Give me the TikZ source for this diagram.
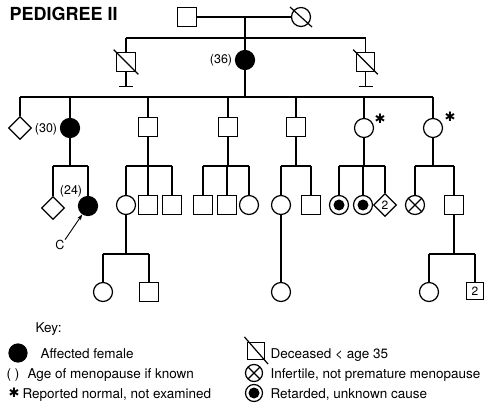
\documentclass[tikz,border=0pt]{standalone}
\usepackage{fontspec}
\setmainfont{TeX Gyre Heros}
\newfontfamily\symfont{DejaVu Sans}
\usetikzlibrary{shapes.geometric,arrows.meta}

\begin{document}
\begin{tikzpicture}[x=1pt,y=-1pt,line width=1.2pt,
    every node/.style={inner sep=0pt},
    sq/.style={draw,rectangle,minimum size=18.5pt,fill=white},
    ci/.style={draw,circle,minimum size=19pt,fill=white},
    dm/.style={draw,diamond,minimum size=23pt,fill=white},
    aff/.style={ci,fill=black},
    ret/.style={ci,path picture={\fill[black] (path picture bounding box.center) circle (5.5pt);}},
    inf/.style={ci,path picture={\draw (path picture bounding box.north west) -- (path picture bounding box.south east)
        (path picture bounding box.north east) -- (path picture bounding box.south west);}},
    lab/.style={font=\fontsize{12.5}{14}\selectfont},
    num/.style={font=\fontsize{12}{14}\selectfont},
    key/.style={font=\fontsize{13.5}{16}\selectfont,anchor=base west},
    star/.style={font=\symfont\fontsize{13}{14}\selectfont}]
  \useasboundingbox (0,0) rectangle (485,414);
  \node [font=\bfseries\fontsize{18}{20}\selectfont,anchor=west] (title) at (9,13.5) {PEDIGREE II};

  % generation I
  \node [sq] (I1) at (187,17) {};
  \node [ci] (I2) at (301,17) {};
  \draw ([shift={(-11,-10)}]I2.center) -- ([shift={(11,10)}]I2.center);
  \coordinate (m1) at (245,17);
  \coordinate (s2) at (245,38);
  \draw (I1) -- (I2);
  \draw (m1) -- (s2);

  % generation II
  \node [sq] (II1) at (126,62) {};
  \node [aff] (II2) at (245,60) {};
  \node [sq] (II3) at (365.5,62) {};
  \node [lab] (a36) at (221,60) {(36)};
  \foreach \n in {II1,II3} {
    \draw ([shift={(-2.5,-2.5)}]\n.north west) -- ([shift={(2.5,2.5)}]\n.south east);
    \draw (\n.south) -- ++(0,15) ++(-7,0) -- ++(14,0);
    \draw (\n.north) -- (\n.north |- s2);
  }
  \draw (II1.north |- s2) -- (II3.north |- s2);
  \draw (s2) -- (II2);

  % generation III
  \coordinate (s3) at (245,97);
  \draw (II2) -- (s3);
  \node [dm] (III1) at (20,128) {};
  \node [aff] (III2) at (70,128) {};
  \node [sq] (III3) at (148,127) {};
  \node [sq] (III4) at (228,127) {};
  \node [sq] (III5) at (296,127) {};
  \node [ci] (III6) at (364,128) {};
  \node [ci] (III7) at (433,128) {};
  \node [lab] (a30) at (46,129) {(30)};
  \node [star] (st1) at (380,119) {✱};
  \node [star] (st2) at (450,117) {✱};
  \draw (III1.north |- s3) -- (III7.north |- s3);
  \foreach \n in {III1,III2,III3,III4,III5,III6,III7}
    \draw (\n.north) -- (\n.north |- s3);

  % generation IV
  \coordinate (g4) at (0,166);
  \node [dm] (IV1) at (53,208) {};
  \node [aff] (IV2) at (88,206) {};
  \node [ci] (IV3) at (126,205) {};
  \node [sq] (IV4) at (148,205) {};
  \node [sq] (IV5) at (172,205) {};
  \node [sq] (IV6) at (203,205) {};
  \node [sq] (IV7) at (227,205) {};
  \node [ci] (IV8) at (249,205) {};
  \node [ci] (IV9) at (281,205) {};
  \node [sq] (IV10) at (311,205) {};
  \node [ret] (IV11) at (339,205) {};
  \node [ret] (IV12) at (363,205) {};
  \node [dm,num] (IV13) at (385,205) {2};
  \node [inf] (IV14) at (415,205) {};
  \node [sq] (IV15) at (454,205) {};
  \node [lab] (a24) at (71,191) {(24)};
  \node [lab] (C) at (60,245) {C};
  \draw [line width=0.9pt,-{Stealth[length=6pt,width=4pt]}] (C.north east) -- (IV2);
  \foreach \p in {III2,III3,III4,III5,III6,III7}
    \draw (\p.south) -- (\p.south |- g4);
  \draw (IV1.north |- g4) -- (IV2.north |- g4);
  \draw (IV3.north |- g4) -- (IV5.north |- g4);
  \draw (IV6.north |- g4) -- (IV8.north |- g4);
  \draw (IV9.north |- g4) -- (IV10.north |- g4);
  \draw (IV11.north |- g4) -- (IV13.north |- g4);
  \draw (IV14.north |- g4) -- (IV15.north |- g4);
  \foreach \n in {IV1,IV2,IV3,IV4,IV5,IV6,IV7,IV8,IV9,IV10,IV11,IV12,IV13,IV14,IV15}
    \draw (\n.north) -- (\n.north |- g4);

  % generation V
  \coordinate (g5) at (0,254);
  \node [ci] (V1) at (103,292) {};
  \node [sq] (V2) at (149,292) {};
  \node [ci] (V3) at (281,292) {};
  \node [ci] (V4) at (429,292) {};
  \node [sq,num,minimum size=17pt] (V5) at (475,291) {2};
  \draw (IV9) -- (V3);
  \foreach \p in {IV3,IV15}
    \draw (\p.south) -- (\p.south |- g5);
  \draw (V1.north |- g5) -- (V2.north |- g5);
  \draw (V4.north |- g5) -- (V5.north |- g5);
  \foreach \n in {V1,V2,V4,V5}
    \draw (\n.north) -- (\n.north |- g5);

  % key
  \node [key] (k0) at (35,332) {Key:};
  \node [aff,minimum size=18pt] (kaff) at (18,353) {};
  \node [key] (k1) at (40,358) {Affected female};
  \node [key] (kpar) at (6,378) {( )};
  \node [key] (k2) at (27,378) {Age of menopause if known};
  \node [star] (kst) at (14,393) {✱};
  \node [key] (k3) at (22,398) {Reported normal, not examined};
  \node [sq,minimum size=17pt] (kdec) at (256,351) {};
  \draw ([shift={(-2.5,-5)}]kdec.north west) -- ([shift={(3,4)}]kdec.south east);
  \node [key] (k4) at (270,358) {Deceased < age 35};
  \node [inf,minimum size=17pt] (kinf) at (254,373) {};
  \node [key] (k5) at (270,378) {Infertile, not premature menopause};
  \node [ret,minimum size=17pt] (kret) at (254,393) {};
  \node [key] (k6) at (270,398) {Retarded, unknown cause};
\end{tikzpicture}
\end{document}
